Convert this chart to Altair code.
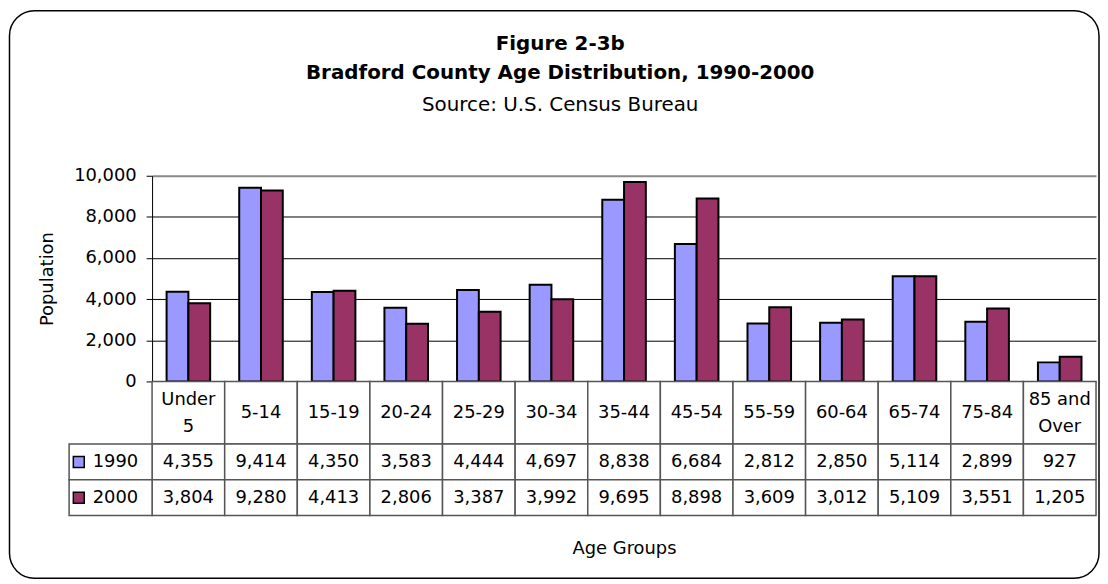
import altair as alt
import pandas as pd

# ---------------- data ----------------
categories = ["Under 5", "5-14", "15-19", "20-24", "25-29", "30-34", "35-44",
              "45-54", "55-59", "60-64", "65-74", "75-84", "85 and Over"]
header_labels = ["Under\n5", "5-14", "15-19", "20-24", "25-29", "30-34", "35-44",
                 "45-54", "55-59", "60-64", "65-74", "75-84", "85 and\nOver"]
pop_1990 = [4355, 9414, 4350, 3583, 4444, 4697, 8838, 6684, 2812, 2850, 5114, 2899, 927]
pop_2000 = [3804, 9280, 4413, 2806, 3387, 3992, 9695, 8898, 3609, 3012, 5109, 3551, 1205]
series = ["1990", "2000"]
series_colors = ["#9999FF", "#993366"]
y_ticks = [0, 2000, 4000, 6000, 8000, 10000]

long_df = pd.DataFrame({
    "cat": categories * 2,
    "series": [series[0]] * len(categories) + [series[1]] * len(categories),
    "value": pop_1990 + pop_2000,
})
hdr_df = pd.DataFrame({"cat": categories, "label": header_labels, "row": "hdr"})
leg_df = pd.DataFrame({"series": series, "slot": "legend"})
frame_df = pd.DataFrame({"k": [0]})

# ---------------- layout / style ----------------
FONT = "DejaVu Sans"
W = 950          # plot width (13 columns)
BAR_H = 207      # bar area height
HDR_H = 63       # header row height
H = 342          # bars + table
LINE = "#555555"
FS = 18

x_cat = alt.Scale(domain=categories, paddingInner=0, paddingOuter=0)
hdr_y = alt.Scale(domain=["hdr"], range=[BAR_H, BAR_H + HDR_H], paddingInner=0, paddingOuter=0)
val_y = alt.Scale(domain=series, range=[BAR_H + HDR_H, H], paddingInner=0, paddingOuter=0)
leg_x = alt.Scale(domain=["legend"], range=[-83.5, 0], paddingInner=0, paddingOuter=0)
col_scale = alt.Scale(domain=series, range=series_colors)

frame_rect = alt.Chart(frame_df).mark_rect(
    fill="transparent", stroke="black", strokeWidth=1.5, cornerRadius=25
).encode(
    x=alt.value(-143.5), x2=alt.value(953), y=alt.value(-166), y2=alt.value(405)
)

bars = alt.Chart(long_df).mark_bar(stroke="black", strokeWidth=2).encode(
    x=alt.X("cat:N", scale=alt.Scale(domain=categories, paddingInner=0.4, paddingOuter=0.2), axis=None),
    xOffset=alt.XOffset("series:N", scale=alt.Scale(domain=series, paddingInner=0, paddingOuter=0)),
    y=alt.Y("value:Q",
            scale=alt.Scale(domain=[0, 10000], range=[BAR_H, 0]),
            axis=alt.Axis(values=y_ticks, format=",d", title="Population",
                          titleFontSize=FS, titleFontWeight="normal", titleColor="black",
                          titlePadding=17, labelFontSize=FS, labelColor="black",
                          labelPadding=10, tickSize=6, tickColor="black",
                          domainColor="black", domainWidth=1, grid=True,
                          gridColor=alt.condition("datum.value === 10000", alt.value("#8a8a8a"), alt.value("#000000")),
                          gridWidth=alt.condition("datum.value === 10000", alt.value(2), alt.value(1)),
                          gridOpacity=1)),
    color=alt.Color("series:N", scale=col_scale, legend=None),
)

hdr_cells = alt.Chart(hdr_df).mark_rect(fill="white", stroke=LINE, strokeWidth=1.5).encode(
    x=alt.X("cat:N", scale=x_cat, axis=None),
    y=alt.Y("row:N", scale=hdr_y, axis=None),
)
hdr_text_one = alt.Chart(hdr_df).transform_filter(
    "indexof(datum.label, '\\n') < 0"
).mark_text(fontSize=FS, color="black").encode(
    x=alt.X("cat:N", scale=x_cat, axis=None),
    y=alt.Y("row:N", scale=hdr_y, axis=None),
    text="label:N",
)
hdr_text_two = alt.Chart(hdr_df).transform_filter(
    "indexof(datum.label, '\\n') >= 0"
).mark_text(lineBreak="\n", lineHeight=27, fontSize=FS, color="black", dy=-13).encode(
    x=alt.X("cat:N", scale=x_cat, axis=None),
    y=alt.Y("row:N", scale=hdr_y, axis=None),
    text="label:N",
)

val_cells = alt.Chart(long_df).mark_rect(fill="white", stroke=LINE, strokeWidth=1.5).encode(
    x=alt.X("cat:N", scale=x_cat, axis=None),
    y=alt.Y("series:N", scale=val_y, axis=None),
)
val_text = alt.Chart(long_df).mark_text(fontSize=FS, color="black").encode(
    x=alt.X("cat:N", scale=x_cat,
            axis=alt.Axis(title="Age Groups", labels=False, ticks=False, domain=False,
                          titlePadding=24, titleFontSize=FS, titleFontWeight="normal",
                          titleColor="black", orient="bottom")),
    y=alt.Y("series:N", scale=val_y, axis=None),
    text=alt.Text("value:Q", format=","),
)

leg_cells = alt.Chart(leg_df).mark_rect(fill="white", stroke=LINE, strokeWidth=1.5).encode(
    x=alt.X("slot:N", scale=leg_x, axis=None),
    y=alt.Y("series:N", scale=val_y, axis=None),
)
leg_sym = alt.Chart(leg_df).mark_point(shape="square", filled=True, size=121, stroke="black",
                                       strokeWidth=1.5, opacity=1, xOffset=-32).encode(
    x=alt.X("slot:N", scale=leg_x, axis=None),
    y=alt.Y("series:N", scale=val_y, axis=None),
    color=alt.Color("series:N", scale=col_scale, legend=None),
)
leg_text = alt.Chart(leg_df).mark_text(align="left", fontSize=FS, color="black", dx=-18).encode(
    x=alt.X("slot:N", scale=leg_x, axis=None),
    y=alt.Y("series:N", scale=val_y, axis=None),
    text="series:N",
)

chart = alt.layer(
    frame_rect, bars, hdr_cells, hdr_text_one, hdr_text_two, val_cells, val_text,
    leg_cells, leg_sym, leg_text
).resolve_scale(
    x="independent", y="independent"
).properties(
    width=W, height=H, padding=0,
    title=alt.Title(
        text=["Figure 2-3b", "Bradford County Age Distribution, 1990-2000"],
        subtitle="Source: U.S. Census Bureau",
        font=FONT, fontSize=20, fontWeight="bold", lineHeight=29, color="black",
        subtitleFont=FONT, subtitleFontSize=20, subtitleFontWeight="normal",
        subtitleColor="black", subtitlePadding=12.5,
        anchor="middle", frame="bounds", offset=-106, dx=6,
    ),
).configure(font=FONT).configure_view(stroke=None)

chart.save("out.html", embed_options={"renderer": "svg", "actions": False})
